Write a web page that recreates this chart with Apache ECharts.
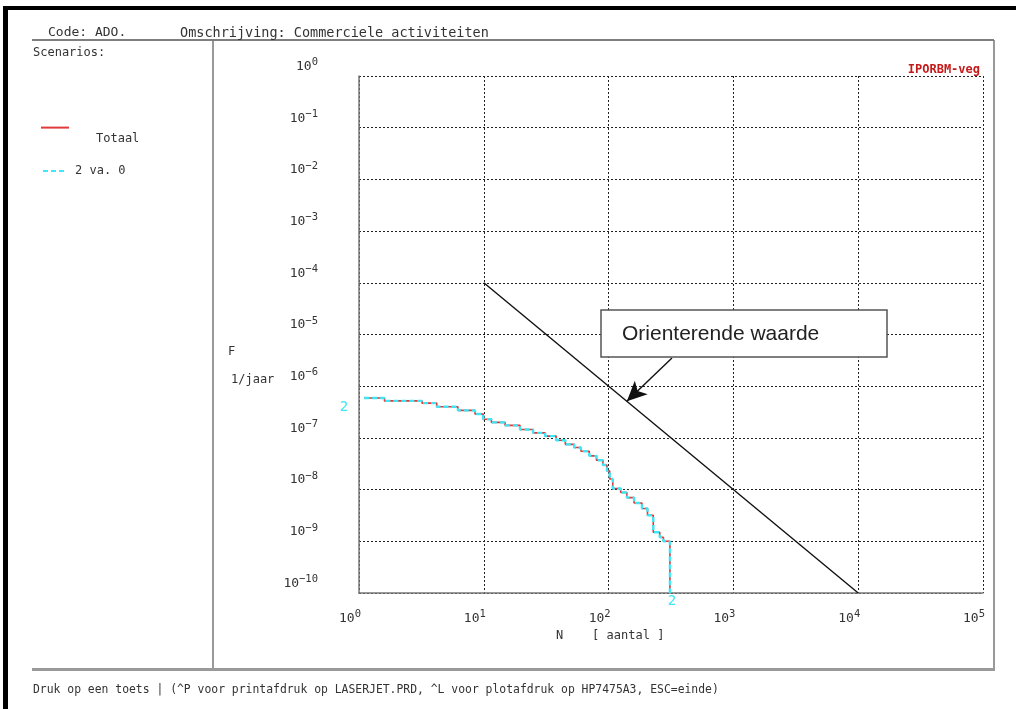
<!DOCTYPE html>
<html>
<head>
<meta charset="utf-8">
<script src="https://cdn.jsdelivr.net/npm/echarts@6/dist/echarts.min.js"></script>
<style>
html,body{margin:0;padding:0;background:#fff;}
#chart{width:1016px;height:709px;}
</style>
</head>
<body>
<div id="chart"></div>
<script>
// ---- data ----
const N_VALUES = [1.1, 1.6, 3.2, 4.2, 6.2, 8.5, 9.9, 11.5, 14.8, 19.5, 24.8, 31, 38, 45, 53, 60, 70, 80, 90, 97, 102, 108, 125, 140, 160, 185, 205, 228, 257, 275, 310];
const F_TOTAAL = [5.9e-7, 5.2e-7, 4.7e-7, 4.0e-7, 3.4e-7, 2.9e-7, 2.3e-7, 2.0e-7, 1.75e-7, 1.45e-7, 1.25e-7, 1.08e-7, 9.0e-8, 7.5e-8, 6.5e-8, 5.5e-8, 4.5e-8, 3.7e-8, 3.0e-8, 2.3e-8, 1.6e-8, 1.05e-8, 8.8e-9, 7.0e-9, 5.5e-9, 4.3e-9, 3.2e-9, 1.5e-9, 1.2e-9, 1.0e-9, 1e-10];
const F_SCENARIO = [5.9e-7, 5.2e-7, 4.7e-7, 4.0e-7, 3.4e-7, 2.9e-7, 2.3e-7, 2.0e-7, 1.75e-7, 1.45e-7, 1.25e-7, 1.08e-7, 9.0e-8, 7.5e-8, 6.5e-8, 5.5e-8, 4.5e-8, 3.7e-8, 3.0e-8, 2.3e-8, 1.6e-8, 1.05e-8, 8.8e-9, 7.0e-9, 5.5e-9, 4.3e-9, 3.2e-9, 1.5e-9, 1.2e-9, 1.0e-9, 1e-10];
const ORIENT_N = [10, 10000];
const ORIENT_F = [1e-4, 1e-10];
const ARROW_FROM = [322, 3.5e-6];
const ARROW_TO = [140, 5.1e-7];
const SERIES_NAMES = ['Totaal', '2 va. 0'];
const SCENARIO_TAG = '2';
const X_RANGE = [1, 1e5];
const Y_RANGE = [1e-10, 1];
const HEADER_CODE = 'Code: ADO.';
const HEADER_DESC = 'Omschrijving: Commerciele activiteiten';
const FOOTER = 'Druk op een toets | (^P voor printafdruk op LASERJET.PRD, ^L voor plotafdruk op HP7475A3, ESC=einde)';

const MONO = '"DejaVu Sans Mono", "Liberation Mono", monospace';
const CYAN = '#3ee6f6';
const pairs = (xs, ys) => xs.map((x, i) => [x, ys[i]]);

function powLabel(v) {
  const e = Math.round(Math.log10(v));
  return '{b|10}{s|' + (e < 0 ? '\u2212' + (-e) : e) + '}';
}
const richLbl = {
  b: { fontFamily: MONO, fontSize: 13, color: '#333' },
  s: { fontFamily: MONO, fontSize: 10.5, color: '#333', padding: [0, 0, 8, 0] }
};

const lastIdx = N_VALUES.length - 1;

const chart = echarts.init(document.getElementById('chart'), null, { renderer: 'canvas' });
chart.setOption({
  backgroundColor: '#ffffff',
  animation: false,
  grid: { left: 359, right: 33, top: 76, bottom: 116 },
  legend: [
    { data: [SERIES_NAMES[0]], orient: 'vertical', left: 40, top: 122, padding: 0, itemWidth: 28, itemHeight: 14,
      itemStyle: { opacity: 0 },
      formatter: '{t|{name}}',
      textStyle: { fontFamily: MONO, fontSize: 12, color: '#333',
        rich: { t: { fontFamily: MONO, fontSize: 12, color: '#333', padding: [22, 0, 0, 22] } } },
      selectedMode: false },
    { data: [SERIES_NAMES[1]], orient: 'vertical', left: 42, top: 165, padding: 0, itemWidth: 24, itemHeight: 14,
      itemStyle: { opacity: 0 },
      formatter: '{t|{name}}',
      textStyle: { fontFamily: MONO, fontSize: 12, color: '#333',
        rich: { t: { fontFamily: MONO, fontSize: 12, color: '#333', padding: [0, 0, 0, 3] } } },
      selectedMode: false }
  ],
  xAxis: {
    type: 'log', logBase: 10, min: X_RANGE[0], max: X_RANGE[1], interval: 1,
    axisLine: { show: true, lineStyle: { color: '#777', width: 1.5 } },
    axisTick: { show: false },
    axisLabel: { formatter: powLabel, rich: richLbl, margin: 16, align: 'right', padding: [0, -2, 0, 0] },
    splitLine: { show: true, lineStyle: { color: '#222', type: [2, 2], width: 1 } }
  },
  yAxis: {
    type: 'log', logBase: 10, min: Y_RANGE[0], max: Y_RANGE[1], interval: 1, splitNumber: 10,
    axisLine: { show: true, lineStyle: { color: '#777', width: 1.5 } },
    axisTick: { show: false },
    axisLabel: { formatter: powLabel, rich: richLbl, margin: 41, verticalAlign: 'bottom' },
    splitLine: { show: true, lineStyle: { color: '#222', type: [2, 2], width: 1 } }
  },
  series: [
    { name: SERIES_NAMES[0], type: 'line', step: 'end', showSymbol: false, symbol: 'none',
      data: pairs(N_VALUES, F_TOTAAL), lineStyle: { color: '#e03a3a', width: 1.6 }, itemStyle: { color: '#e03a3a' }, z: 3 },
    { name: SERIES_NAMES[1], type: 'line', step: 'end', symbol: 'none', showSymbol: false,
      data: pairs(N_VALUES, F_SCENARIO), lineStyle: { color: CYAN, width: 2.4, type: [5, 3] }, itemStyle: { color: CYAN }, z: 4,
      markPoint: { silent: true, symbol: 'circle', symbolSize: 0,
        label: { show: true, formatter: SCENARIO_TAG, color: CYAN, fontSize: 14, fontFamily: MONO },
        data: [
          { coord: [N_VALUES[0], F_SCENARIO[0]], label: { position: 'left', distance: 16, offset: [0, 9] } },
          { coord: [N_VALUES[lastIdx], F_SCENARIO[lastIdx]], label: { position: 'bottom', distance: 1, offset: [2, 0] } }
        ] } },
    { name: 'Orienterende waarde', type: 'line', symbol: 'none',
      data: pairs(ORIENT_N, ORIENT_F), lineStyle: { color: '#111', width: 1.4 }, z: 5,
      markLine: { silent: true, symbol: ['none', 'arrow'], symbolSize: [14, 20], label: { show: false },
        lineStyle: { color: '#111', type: 'solid', width: 1.4 },
        data: [[{ coord: ARROW_FROM }, { coord: ARROW_TO }]] } }
  ],
  graphic: [
    { type: 'rect', shape: { x: 3, y: 6, width: 1013, height: 4 }, style: { fill: '#000' } },
    { type: 'rect', shape: { x: 3, y: 6, width: 5, height: 703 }, style: { fill: '#000' } },
    { type: 'line', shape: { x1: 32, y1: 40, x2: 994, y2: 40 }, style: { stroke: '#555', lineWidth: 1.5 } },
    { type: 'line', shape: { x1: 994, y1: 40, x2: 994, y2: 670 }, style: { stroke: '#777', lineWidth: 1.5 } },
    { type: 'line', shape: { x1: 213, y1: 40, x2: 213, y2: 670 }, style: { stroke: '#777', lineWidth: 1.5 } },
    { type: 'rect', shape: { x: 32, y: 668, width: 963, height: 3 }, style: { fill: '#999' } },
    { type: 'text', x: 48, y: 33, style: { text: HEADER_CODE, font: '13px ' + MONO, fill: '#333', verticalAlign: 'middle' } },
    { type: 'text', x: 180, y: 33, style: { text: HEADER_DESC, font: '13.5px ' + MONO, fill: '#333', verticalAlign: 'middle' } },
    { type: 'text', x: 33, y: 53, style: { text: 'Scenarios:', font: '12px ' + MONO, fill: '#333', verticalAlign: 'middle' } },
    { type: 'text', x: 33, y: 690, style: { text: FOOTER, font: '11.4px ' + MONO, fill: '#333', verticalAlign: 'middle' } },
    { type: 'text', x: 980, y: 70, style: { text: 'IPORBM-veg', font: 'bold 12px ' + MONO, fill: '#c41a1a', align: 'right', verticalAlign: 'middle' } },
    { type: 'text', x: 228, y: 352, style: { text: 'F', font: '12px ' + MONO, fill: '#333', verticalAlign: 'middle' } },
    { type: 'text', x: 231, y: 380, style: { text: '1/jaar', font: '12px ' + MONO, fill: '#333', verticalAlign: 'middle' } },
    { type: 'text', x: 556, y: 636, style: { text: 'N    [ aantal ]', font: '12px ' + MONO, fill: '#333', verticalAlign: 'middle' } },
    { type: 'rect', z: 100, shape: { x: 601, y: 310, width: 286, height: 47 }, style: { fill: '#fff', stroke: '#555', lineWidth: 1.5 } },
    { type: 'text', z: 101, x: 622, y: 334, style: { text: 'Orienterende waarde', font: '21px "Liberation Sans", Arial, sans-serif', fill: '#222', verticalAlign: 'middle' } }
  ]
});
</script>
</body>
</html>
